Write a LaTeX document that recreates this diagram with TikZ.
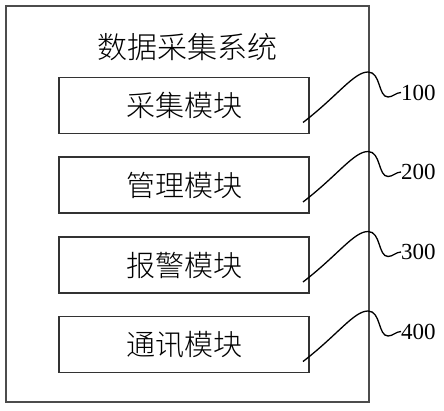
\documentclass[tikz,border=0pt]{standalone}
\usepackage{fontspec}
\setmainfont{Liberation Serif}
\newfontfamily\cjk{Noto Sans CJK SC}[UprightFont={* Light}]
\begin{document}
\begin{tikzpicture}[x=1pt,y=-1pt,
  outerbox/.style={draw=black!70,line width=1.1pt},
  modbox/.style={draw=black!80,line width=1.1pt,minimum width=250pt,minimum height=56pt,inner sep=0pt,font=\cjk\fontsize{29}{31}\selectfont},
  leader/.style={draw=black,line width=1.3pt},
  reflabel/.style={anchor=west,inner sep=0pt,font=\fontsize{23}{25}\selectfont}]
\useasboundingbox (0,0) rectangle (444,410);
\draw[outerbox] (6,6) rectangle (369,402);
\node[font=\cjk\fontsize{30}{32}\selectfont] (title) at (187,47) {数据采集系统};
\foreach \n/\t/\c/\num in {1/采集模块/105.5/100, 2/管理模块/185/200, 3/报警模块/265/300, 4/通讯模块/344.5/400}{
  \node[modbox] (m\n) at (184,\c) {\t};
  \node[reflabel] (l\n) at (401,\c-13) {\num};
  \coordinate (s\n) at (303,\c+17);
  \draw[leader] (s\n) .. controls (338,\c-10) and (354,\c-33.5) .. (368,\c-33.5)
     .. controls (381,\c-33.5) and (378,\c-8.5) .. (388,\c-8.5)
     .. controls (393,\c-8.5) and (396,\c-13) .. (l\n.west);
}
\end{tikzpicture}
\end{document}
